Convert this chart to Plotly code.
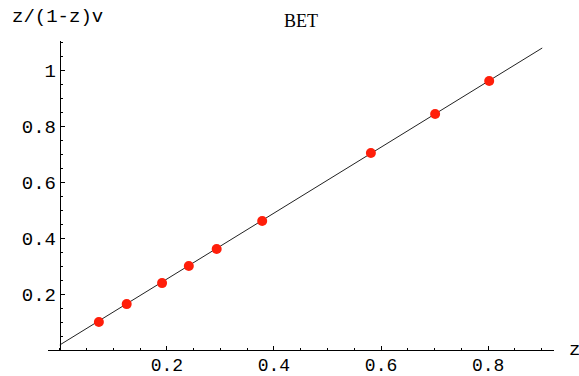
import plotly.graph_objects as go

# data
z_vals = [0.073, 0.125, 0.191, 0.241, 0.293, 0.378, 0.581, 0.701, 0.802]
bet_vals = [0.100, 0.164, 0.239, 0.300, 0.361, 0.461, 0.704, 0.843, 0.961]
fit_x = [0.0, 0.901]
fit_y = [0.018, 1.079]
x_ticks = [0.2, 0.4, 0.6, 0.8]
x_ticktext = ["0.2", "0.4", "0.6", "0.8"]
y_ticks = [0.2, 0.4, 0.6, 0.8, 1.0]
y_ticktext = ["0.2", "0.4", "0.6", "0.8", "1"]

W, H = 579, 376
ML, MR, MT, MB = 48, 25, 41, 26
x_range = [-0.022, 0.923]
y_range = [0.0, 1.104]
# paper position of x=0 for the y axis
y_axis_pos = (0 - x_range[0]) / (x_range[1] - x_range[0])
PW, PH = W - ML - MR, H - MT - MB

mono = "Liberation Mono, Courier New, monospace"
FS = 19

fig = go.Figure()
fig.add_trace(go.Scatter(x=fit_x, y=fit_y, mode="lines",
                         line=dict(color="#222222", width=1), hoverinfo="skip"))
fig.add_trace(go.Scatter(x=z_vals, y=bet_vals, mode="markers",
                         marker=dict(color="rgb(255,30,10)", size=10, line=dict(width=0))))

fig.update_layout(
    width=W, height=H,
    margin=dict(l=ML, r=MR, t=MT, b=MB, autoexpand=False),
    paper_bgcolor="white", plot_bgcolor="white",
    showlegend=False,
    xaxis=dict(range=x_range, showgrid=False, zeroline=False, automargin=False,
               showline=True, linecolor="black", linewidth=1,
               tickvals=x_ticks, ticktext=x_ticktext,
               ticks="inside", ticklen=4, tickcolor="black", tickwidth=1,
               minor=dict(dtick=0.05, tick0=0, ticks="inside", ticklen=2,
                          tickcolor="black", tickwidth=1, showgrid=False),
               tickfont=dict(family=mono, size=18, color="black"),
               ticklabelstandoff=-2,
               anchor="y"),
    yaxis=dict(range=y_range, showgrid=False, zeroline=False, automargin=False,
               showline=True, linecolor="black", linewidth=1,
               anchor="free", position=y_axis_pos, side="left",
               tickvals=y_ticks, ticktext=y_ticktext,
               ticks="inside", ticklen=4, tickcolor="black", tickwidth=1,
               minor=dict(dtick=0.05, tick0=0, ticks="inside", ticklen=2,
                          tickcolor="black", tickwidth=1, showgrid=False),
               tickfont=dict(family=mono, size=FS, color="black")),
    annotations=[
        dict(text="z/(1-z)v", xref="paper", yref="paper", x=(10 - ML) / PW,
             y=1 + (MT - 17) / PH, xanchor="left", yanchor="middle",
             showarrow=False, font=dict(family=mono, size=FS, color="black")),
        dict(text="z", xref="paper", yref="paper", x=1 + 13 / PW,
             y=0, xanchor="left", yanchor="middle",
             showarrow=False, font=dict(family=mono, size=FS, color="black")),
        dict(text="BET", xref="paper", yref="paper", x=(301 - ML) / PW,
             y=1 + (MT - 21) / PH, xanchor="center", yanchor="middle",
             showarrow=False, font=dict(family="Liberation Serif, Times New Roman, serif", size=18, color="black")),
    ],
)

fig.write_html("out.html")
